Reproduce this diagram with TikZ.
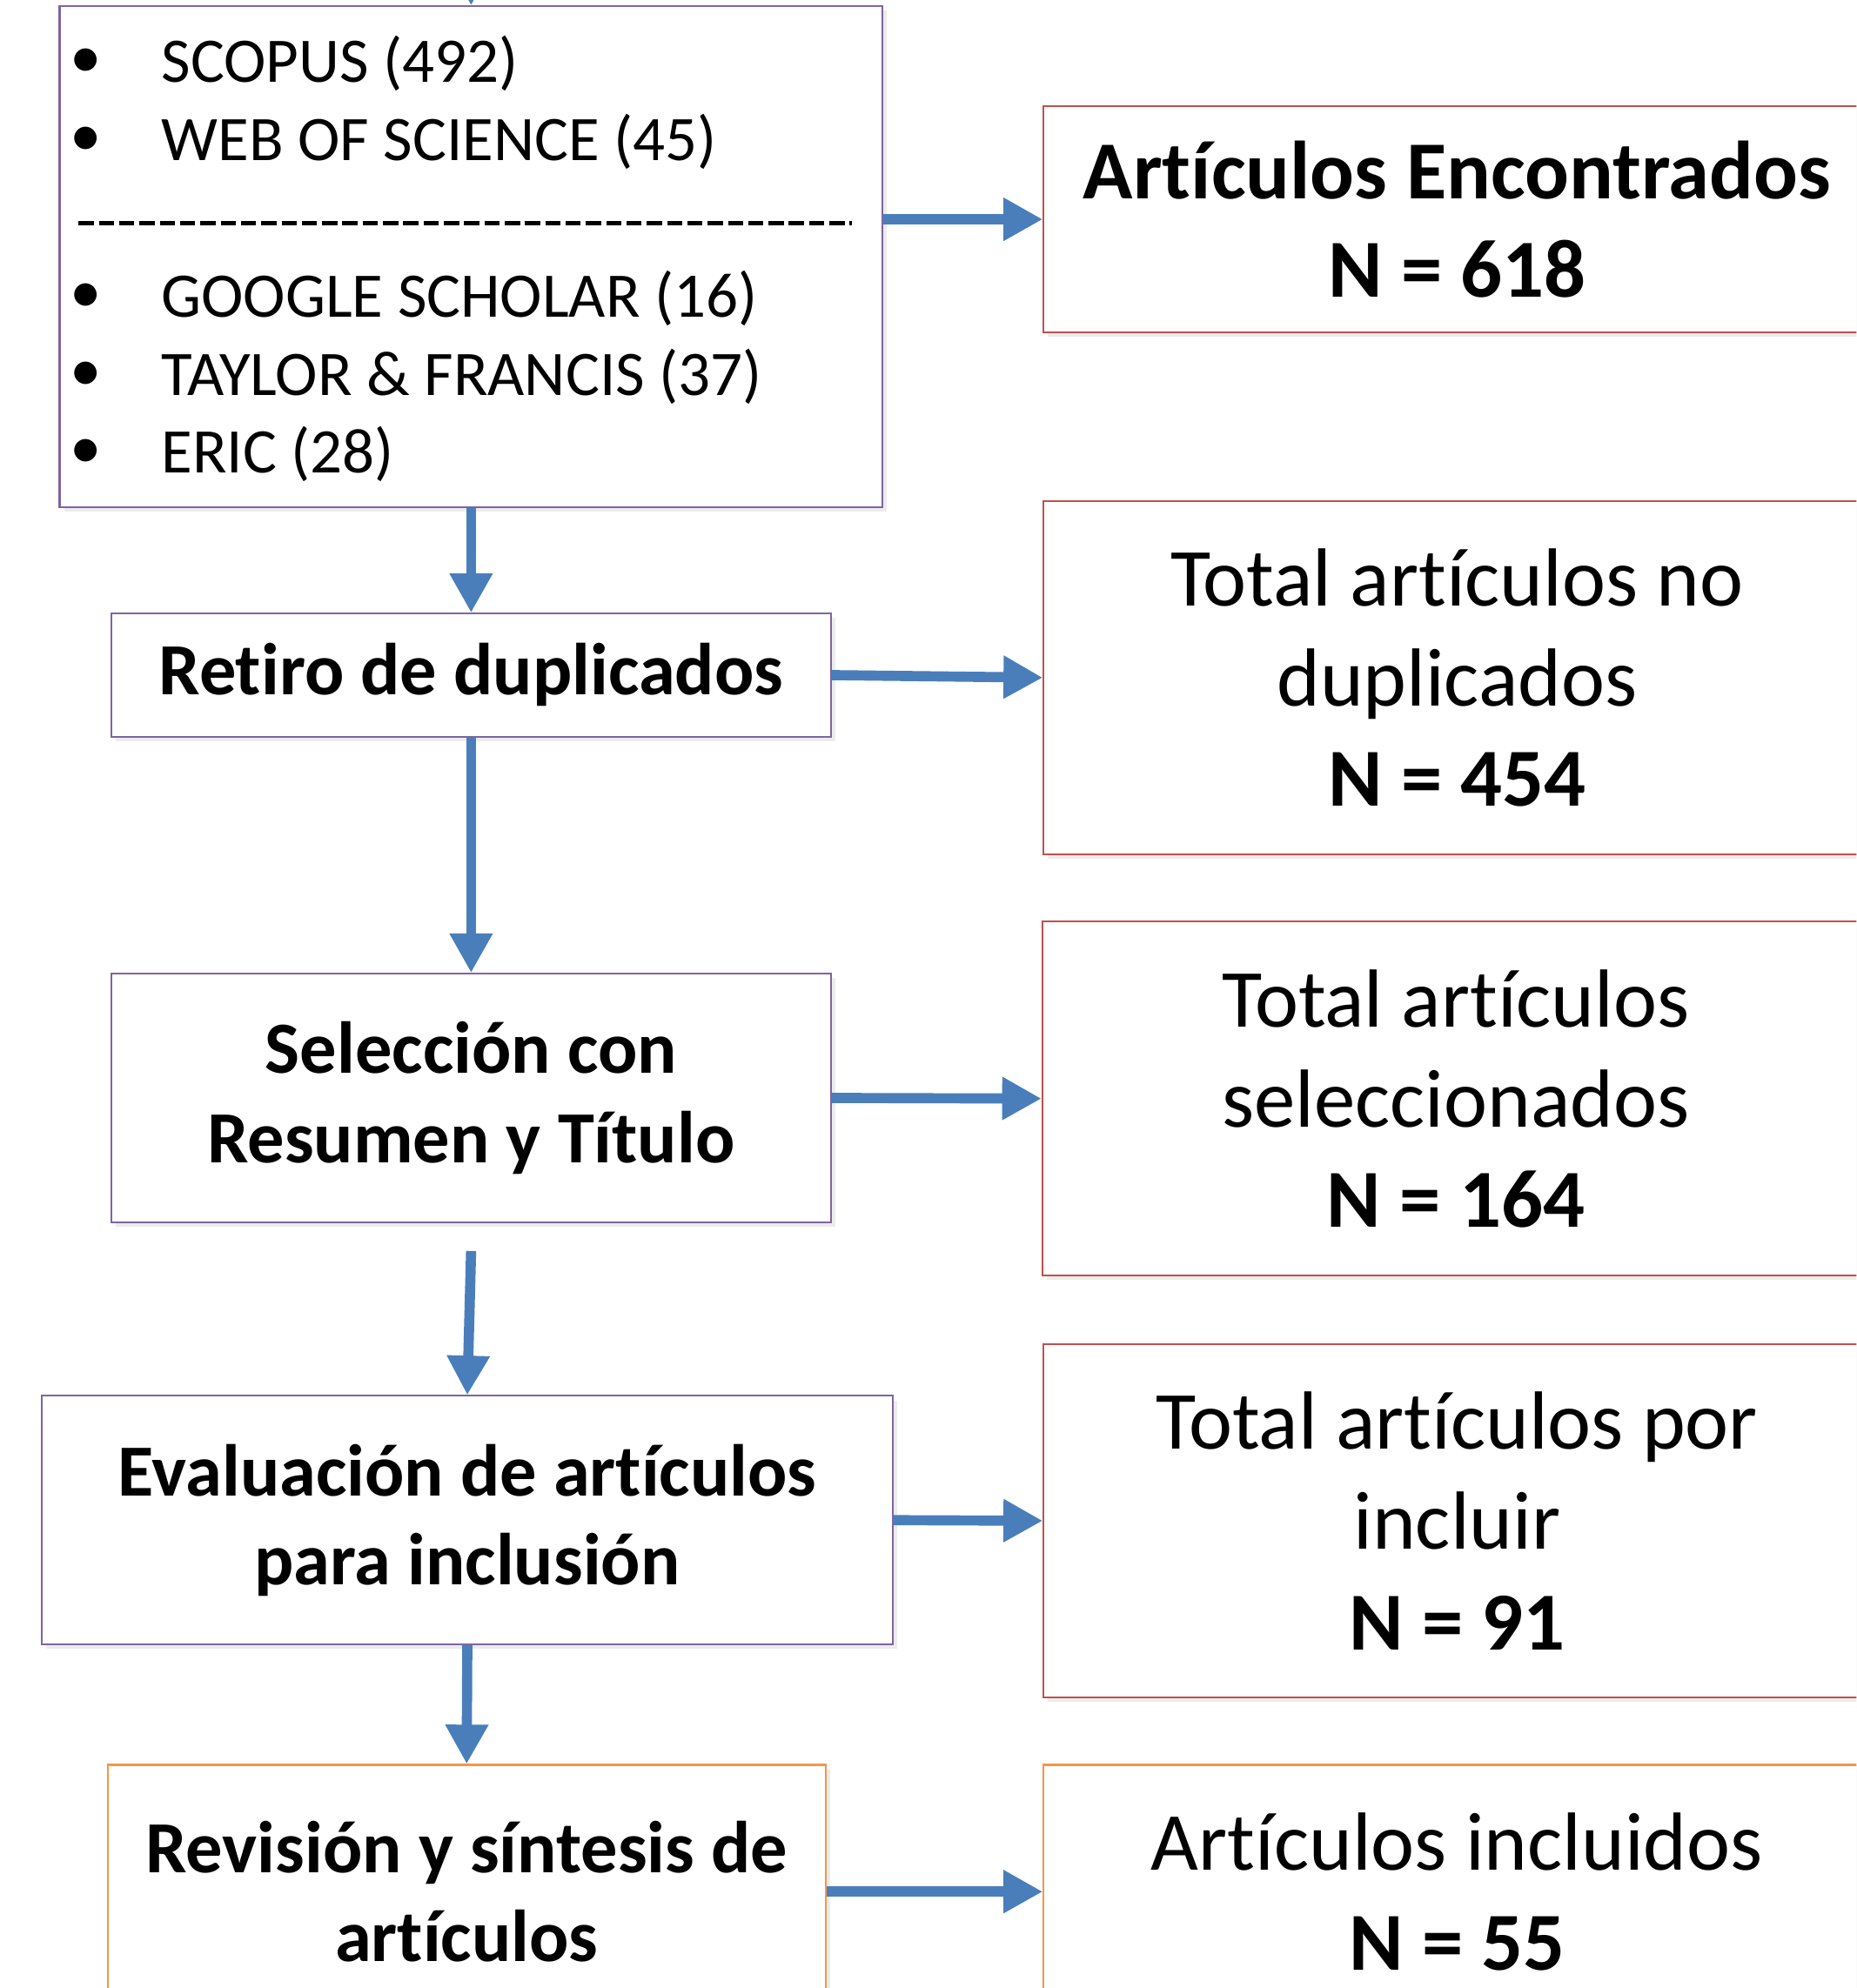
\documentclass[tikz,border=0pt]{standalone}
\usepackage{fontspec}
\setmainfont{Carlito}[Ligatures={NoCommon}]
\usetikzlibrary{arrows.meta,shadows}

\definecolor{arrowblue}{RGB}{74,126,187}
\definecolor{boxpurple}{RGB}{128,100,162}
\definecolor{boxred}{RGB}{192,80,77}
\definecolor{boxorange}{RGB}{247,150,70}

\begin{document}
\begin{tikzpicture}[
  box/.style={draw, line width=0.8pt, fill=white, align=center, inner sep=0pt,
    drop shadow={opacity=0.15, shadow xshift=2pt, shadow yshift=-2pt}},
  stepbox/.style={box, draw=boxpurple, font=\fontsize{33}{40}\selectfont\bfseries},
  countbox/.style={box, draw=boxred, minimum width=13.04cm, minimum height=5.58cm,
    font=\fontsize{37}{45}\selectfont},
  lastbox/.style={draw=boxorange, minimum height=4cm},
  source/.style={anchor=west, inner sep=0pt, font=\fontsize{28.5}{34}\selectfont},
  dot/.style={inner sep=0pt, font=\fontsize{28.5}{34}\selectfont},
  flow/.style={draw=arrowblue, line width=0.16cm, -{Triangle[width=0.64cm,length=0.62cm]}}
]
\useasboundingbox (0,0) rectangle (29.28,31.36);
\clip (0,0) rectangle (29.28,31.36);

% sources
\node[box, draw=boxpurple, minimum width=12.98cm, minimum height=7.90cm] (src) at (7.43,27.31) {};

\node[dot] (d1) at (1.36,30.36) {•};
\node[dot] (d2) at (1.36,29.12) {•};
\node[dot] (d3) at (1.36,26.66) {•};
\node[dot] (d4) at (1.36,25.42) {•};
\node[dot] (d5) at (1.36,24.20) {•};

\node[source] (scopus) at (2.54,30.36) {SCOPUS (492)};
\node[source] (wos)    at (2.54,29.12) {WEB OF SCIENCE (45)};
\node[source] (gs)     at (2.54,26.66) {GOOGLE SCHOLAR (16)};
\node[source] (tf)     at (2.54,25.42) {TAYLOR \& FRANCIS (37)};
\node[source] (eric)   at (2.54,24.20) {ERIC (28)};

\draw[dash pattern=on 0.24cm off 0.08cm, line width=2.2pt] (1.24,27.84) -- (13.44,27.84); %separator

% left column
\node[stepbox, minimum width=11.34cm, minimum height=1.94cm] (dup)  at (7.43,20.71) {Retiro de duplicados};
\node[stepbox, minimum width=11.34cm, minimum height=3.92cm] (abst) at (7.43,14.04) {Selección con\\Resumen y Título};
\node[stepbox, minimum width=13.42cm, minimum height=3.92cm] (eval) at (7.37,7.38) {Evaluación de artículos\\para inclusión};
\node[stepbox, lastbox, minimum width=11.32cm] (rev) at (7.36,1.52) {Revisión y síntesis de\\artículos};

% right column
\node[countbox, minimum height=3.56cm, font=\fontsize{37}{44}\selectfont\bfseries] (found) at (22.98,27.90) {Artículos Encontrados\\N = 618};
\node[countbox] (nodup)  at (22.98,20.67) {Total artículos no\\duplicados\\\textbf{N = 454}};
\node[countbox] (chosen) at (22.96,14.03) {Total artículos\\seleccionados\\\textbf{N = 164}};
\node[countbox] (toinc)  at (22.98,7.37) {Total artículos por\\incluir\\\textbf{N = 91}};
\node[countbox, lastbox] (final) at (22.98,1.52) {Artículos incluidos\\\textbf{N = 55}};

% arrows
\coordinate (entry) at (7.42,33);
\draw[flow] (entry) -- (src.north);
\draw[flow] (src.east |- found.west) -- (found.west);
\draw[flow] (src.south) -- (dup.north);
\draw[flow] (dup.east) -- (nodup.west);
\draw[flow] (dup.south) -- (abst.north);
\draw[flow] (abst.east) -- (chosen.west);
\draw[flow] ([yshift=-0.44cm]abst.south) -- (eval.north);
\draw[flow] (eval.east) -- (toinc.west);
\draw[flow] (eval.south) -- (rev.north);
\draw[flow] (rev.east) -- (final.west);

\end{tikzpicture}
\end{document}
